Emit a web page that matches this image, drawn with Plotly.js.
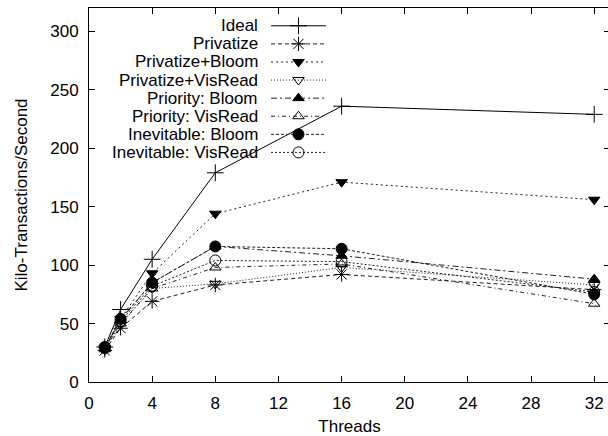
<!DOCTYPE html>
<html>
<head>
<meta charset="utf-8">
<script src="https://cdn.plot.ly/plotly-3.0.1.min.js"></script>
<style>
html,body{margin:0;padding:0;overflow:hidden;background:#fff;}
#chart{width:611px;height:436px;}
</style>
</head>
<body>
<div id="chart"></div>
<script>
// ---- data ----
var threads = [1, 2, 4, 8, 16, 32];
var seriesNames = ["Ideal", "Privatize", "Privatize+Bloom", "Privatize+VisRead",
                   "Priority: Bloom", "Priority: VisRead", "Inevitable: Bloom", "Inevitable: VisRead"];
var ideal       = [30, 62, 105, 179, 236, 229];
var privatize   = [27, 46, 69, 83, 92, 79];
var privBloom   = [29, 54, 93, 144, 171, 156];
var privVisRead = [28, 49, 80, 84, 98, 83];
var prioBloom   = [29, 53, 85, 116, 108, 88];
var prioVisRead = [28, 50, 80, 98, 101, 67];
var inevBloom   = [30, 54, 85, 116, 114, 75];
var inevVisRead = [29, 52, 82, 104, 103, 77];
var xTicks = [0, 4, 8, 12, 16, 20, 24, 28, 32];
var yTicks = [0, 50, 100, 150, 200, 250, 300];

// ---- styles ----
var values = [ideal, privatize, privBloom, privVisRead, prioBloom, prioVisRead, inevBloom, inevVisRead];
var symbols = ["cross-thin-open", "asterisk-open", "triangle-down", "triangle-down-open",
               "triangle-up", "triangle-up-open", "circle", "circle-open"];
var sizes = [12, 12, 10, 10, 10, 10, 11, 11];
var dashes = ["solid", "4px,3px", "2px,3px", "1px,2px", "6px,3px,2px,3px", "4px,3px,1px,3px", "3px,2px", "2px,2px"];
var lineColors = ["#000", "#222", "#222", "#222", "#222", "#222", "#222", "#222"];

var FONT = "Liberation Sans, Arial, Helvetica, sans-serif";
var FS = 17;

// plot area in pixels
var L = 88.5, R = 610, T = 7.5, B = 381.7;

var traces = [];
for (var i = 0; i < values.length; i++) {
  traces.push({
    x: threads, y: values[i], type: "scatter", mode: "lines+markers",
    name: seriesNames[i], showlegend: false, cliponaxis: false,
    line: {color: lineColors[i], width: 1, dash: dashes[i]},
    marker: {symbol: symbols[i], size: sizes[i], color: "#000", line: {color: "#000", width: 1}}
  });
}

// custom gnuplot-style key (text right, sample on the right)
var annotations = [];
var keyTop = 25.3, keyStep = 18.1, keyTextRight = 260, keyX0 = 270.7, keyX1 = 325.7;
for (var j = 0; j < seriesNames.length; j++) {
  var ry = keyTop + keyStep * j;
  traces.push({
    x: [keyX0, keyX1], y: [ry, ry], xaxis: "x2", yaxis: "y2", type: "scatter", mode: "lines",
    showlegend: false, hoverinfo: "skip",
    line: {color: lineColors[j], width: 1, dash: dashes[j]}
  });
  traces.push({
    x: [(keyX0 + keyX1) / 2], y: [ry], xaxis: "x2", yaxis: "y2", type: "scatter", mode: "markers",
    showlegend: false, hoverinfo: "skip",
    marker: {symbol: symbols[j], size: sizes[j], color: "#000", line: {color: "#000", width: 1}}
  });
  annotations.push({
    xref: "x2", yref: "y2", x: keyTextRight, y: ry, xanchor: "right", yanchor: "middle",
    text: seriesNames[j], showarrow: false, font: {family: FONT, size: FS, color: "#000"}
  });
}

var axisCommon = {
  showgrid: false, zeroline: false, showline: true, linecolor: "#000", linewidth: 1,
  mirror: "ticks", ticks: "inside", ticklen: 6, tickwidth: 1, tickcolor: "#000",
  tickfont: {family: FONT, size: FS, color: "#000"}
};

var layout = {
  width: 611, height: 436,
  margin: {l: L, r: 611 - R, t: T, b: 436 - B, pad: 0},
  paper_bgcolor: "#fff", plot_bgcolor: "#fff",
  font: {family: FONT, size: FS, color: "#000"},
  xaxis: Object.assign({}, axisCommon, {
    range: [0, 33], tickmode: "array", tickvals: xTicks, ticktext: xTicks.map(String),
    ticklabelstandoff: 6,
    title: {text: "Threads", font: {family: FONT, size: FS, color: "#000"}, standoff: 7}
  }),
  yaxis: Object.assign({}, axisCommon, {
    range: [0, 320], tickmode: "array", tickvals: yTicks, ticktext: yTicks.map(String),
    ticklabelstandoff: 6,
    title: {text: "Kilo-Transactions/Second", font: {family: FONT, size: FS, color: "#000"}, standoff: 18}
  }),
  xaxis2: {overlaying: "x", range: [L, R], visible: false, fixedrange: true},
  yaxis2: {overlaying: "y", range: [B, T], visible: false, fixedrange: true},
  annotations: annotations,
  showlegend: false
};

Plotly.newPlot("chart", traces, layout, {staticPlot: true, displayModeBar: false});
</script>
</body>
</html>
